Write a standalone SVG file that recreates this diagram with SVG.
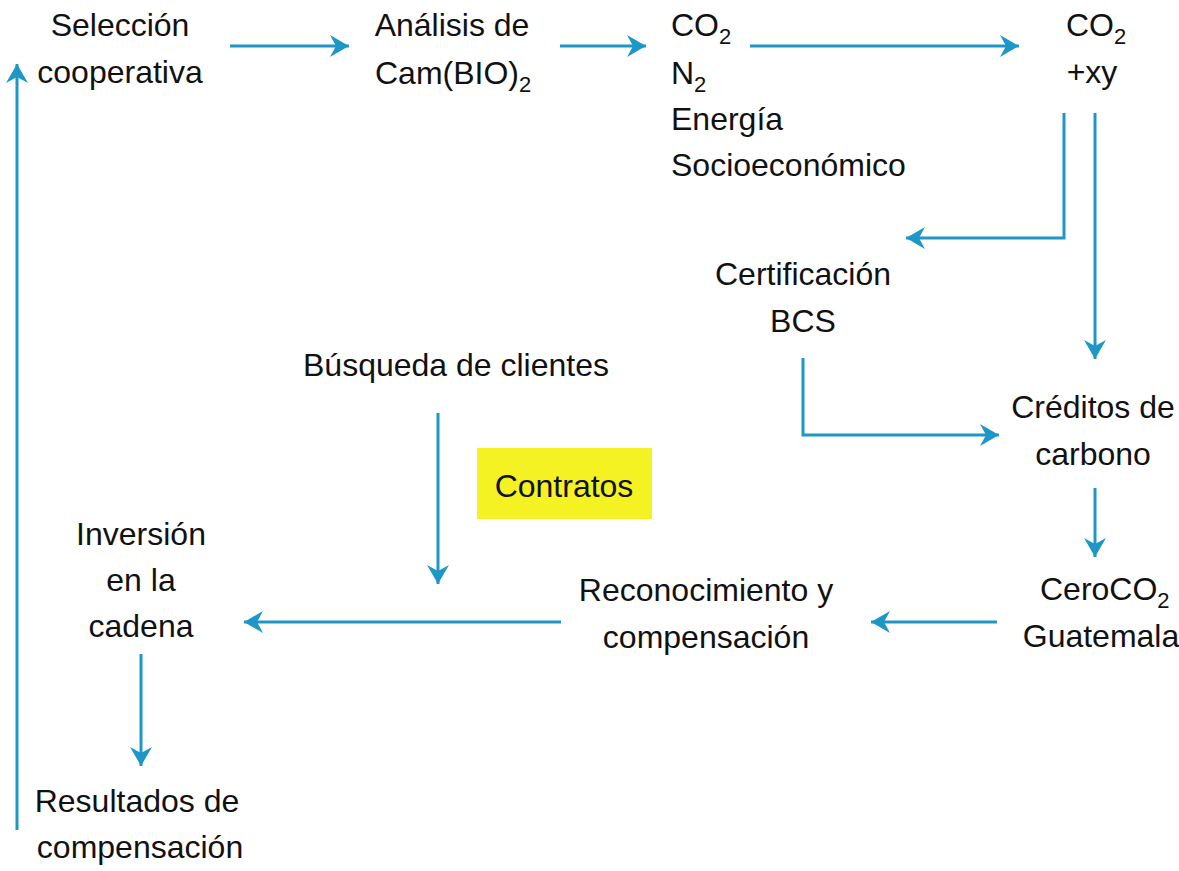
<svg xmlns="http://www.w3.org/2000/svg" width="1179" height="871" viewBox="0 0 1179 871">
<style>
text{font-family:"Liberation Sans",Arial,sans-serif;font-size:32px;fill:#111}
.c{text-anchor:middle}
.sub{font-size:22px}
.ln{fill:none;stroke:#1e97c7;stroke-width:3;marker-end:url(#ah)}
</style>
<defs>
<marker id="ah" viewBox="-20 -12 22 24" refX="0" refY="0" markerWidth="22" markerHeight="24" markerUnits="userSpaceOnUse" orient="auto">
<path d="M0,0 L-19,-11 L-13,0 L-19,11 Z" fill="#1e97c7"/>
</marker>
</defs>
<rect width="1179" height="871" fill="#fff"/>
<g id="connectors">
<path class="ln" d="M230,46 H349"/>
<path class="ln" d="M560,46 H646"/>
<path class="ln" d="M750,46 H1019"/>
<path class="ln" d="M1064,113 V238 H906"/>
<path class="ln" d="M1095,113 V359"/>
<path class="ln" d="M803,358 V435 H999"/>
<path class="ln" d="M1095,488 V557"/>
<path class="ln" d="M997,622 H871"/>
<path class="ln" d="M561,622 H244"/>
<path class="ln" d="M438,413 V584"/>
<path class="ln" d="M141,654 V766"/>
<path class="ln" d="M17,830 V64"/>
</g>
<g id="n-seleccion"><text class="c" x="120" y="36">Selección</text><text class="c" x="120" y="83">cooperativa</text></g>
<g id="n-analisis"><text class="c" x="452" y="36">Análisis de</text><text x="375" y="84">Cam(BIO)<tspan class="sub" dy="8">2</tspan></text></g>
<g id="n-co2"><text x="671" y="36">CO<tspan class="sub" dy="8">2</tspan></text><text x="671" y="84">N<tspan class="sub" dy="8">2</tspan></text><text x="671" y="130">Energía</text><text x="671" y="176">Socioeconómico</text></g>
<g id="n-co2xy"><text x="1066" y="36">CO<tspan class="sub" dy="8">2</tspan></text><text class="c" x="1092" y="83">+xy</text></g>
<g id="n-cert"><text class="c" x="803" y="285">Certificación</text><text class="c" x="803" y="332">BCS</text></g>
<g id="n-busqueda"><text class="c" x="456" y="376">Búsqueda de clientes</text></g>
<g id="n-creditos"><text class="c" x="1093" y="418">Créditos de</text><text class="c" x="1093" y="465">carbono</text></g>
<g id="n-contratos"><rect x="477" y="448" width="175" height="71" fill="#f4f223"/><text class="c" x="564" y="497">Contratos</text></g>
<g id="n-inversion"><text class="c" x="141" y="545">Inversión</text><text class="c" x="141" y="591">en la</text><text class="c" x="141" y="637">cadena</text></g>
<g id="n-reconocimiento"><text class="c" x="706" y="601">Reconocimiento y</text><text class="c" x="706" y="648">compensación</text></g>
<g id="n-ceroco2"><text x="1040" y="600">CeroCO<tspan class="sub" dy="8">2</tspan></text><text class="c" x="1101" y="647">Guatemala</text></g>
<g id="n-resultados"><text class="c" x="137" y="812">Resultados de</text><text class="c" x="140" y="858">compensación</text></g>
</svg>
